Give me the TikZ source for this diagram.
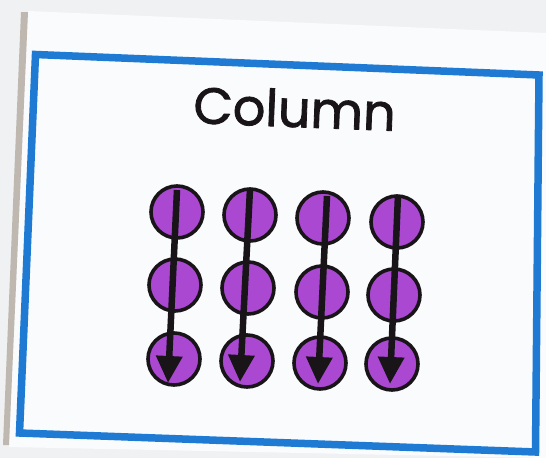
\documentclass[tikz,border=0pt]{standalone}
\usepackage{fontspec}
\newfontfamily\titlefont[FakeBold=1.6]{Poppins}
\usetikzlibrary{arrows.meta}
\definecolor{bg}{RGB}{240,241,243}
\definecolor{paper}{RGB}{250,251,252}
\definecolor{paperedge}{RGB}{190,184,176}
\definecolor{frameblue}{RGB}{30,122,210}
\definecolor{dotfill}{RGB}{170,72,210}
\definecolor{ink}{RGB}{24,20,24}
\tikzset{
  dot/.style={circle, draw=ink, line width=3.6pt, fill=dotfill,
              minimum size=52pt, inner sep=0pt},
  colarrow/.style={draw=ink, line width=6.5pt,
              -{Triangle[width=25pt,length=27pt]}}
}
\begin{document}
\begin{tikzpicture}[x=1pt,y=-1pt]
\useasboundingbox (0,0) rectangle (546,458);
\fill[bg] (0,0) rectangle (546,458);
% the card and its thick left edge
\fill[paper] (28,11) -- (546,33) -- (546,458) -- (9,447) -- cycle;
\fill[paperedge] (21,12) -- (28,12) -- (9,445) -- (3,445) -- cycle;
% blue frame
\draw[frameblue, line width=7.5pt, line join=miter]
  (35.5,54.5) -- (539,75) -- (535.5,452) -- (19.5,433) -- cycle;
% title
\node[text=ink, rotate=-2.2, inner sep=0pt, anchor=base] (title) at (294,127)
  {\titlefont\fontsize{51}{60}\selectfont Column};
% the twelve dots, four columns of three
\node[dot] (c11) at (177,212) {};
\node[dot] (c12) at (175,285) {};
\node[dot] (c13) at (174,359) {};
\node[dot] (c21) at (250,215) {};
\node[dot] (c22) at (248,288) {};
\node[dot] (c23) at (247,361) {};
\node[dot] (c31) at (323,218) {};
\node[dot] (c32) at (322,292) {};
\node[dot] (c33) at (320,363) {};
\node[dot] (c41) at (397,222) {};
\node[dot] (c42) at (394,295) {};
\node[dot] (c43) at (392,364) {};
% arrow ends
\coordinate (s1) at (177,190); \coordinate (t1) at (168,383);
\coordinate (s2) at (250,189); \coordinate (t2) at (240,382);
\coordinate (s3) at (327,196); \coordinate (t3) at (318,384);
\coordinate (s4) at (398,195); \coordinate (t4) at (390,384);
\draw[colarrow] (s1) -- (t1);
\draw[colarrow] (s2) -- (t2);
\draw[colarrow] (s3) -- (t3);
\draw[colarrow] (s4) -- (t4);
\end{tikzpicture}
\end{document}
